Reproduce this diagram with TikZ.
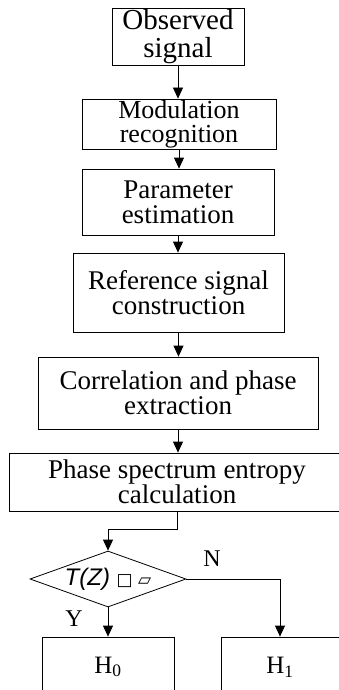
\documentclass[tikz,border=0pt]{standalone}
\usepackage{fontspec}
\setmainfont{Liberation Serif}
\setsansfont{Liberation Sans}
\newfontfamily\symfont{DejaVu Sans}
\usetikzlibrary{shapes.geometric,arrows.meta}

\begin{document}
\begin{tikzpicture}
[x=1pt,y=-1pt,line width=.8pt,
every node/.style={draw,rectangle,inner sep=0pt,align=center,font=\fontsize{27}{25}\selectfont},
arr/.style={-{Triangle[length=11pt,width=10pt]}},
lbl/.style={draw=none,font=\fontsize{24}{24}\selectfont}]
\useasboundingbox (0,0) rectangle (338,690);
\node[minimum width=132pt,minimum height=57pt,font=\fontsize{29}{28}\selectfont] (obs) at (178,36.5) {Observed\\signal};
\node[minimum width=194pt,minimum height=50pt,font=\fontsize{26}{24}\selectfont] (mod) at (179,124) {Modulation\\recognition};
\node[minimum width=192pt,minimum height=66pt] (par) at (178,202) {Parameter\\estimation};
\node[minimum width=211pt,minimum height=79pt] (ref) at (178.5,292.5) {Reference signal\\construction};
\node[minimum width=280pt,minimum height=72pt] (cor) at (178,393) {Correlation and phase\\extraction};
\node[minimum width=336pt,minimum height=58pt] (pse) at (177,482) {Phase spectrum entropy\\calculation};
\node[diamond,aspect=2.8,minimum width=156pt,minimum height=56pt,font=\fontsize{24}{24}\selectfont\sffamily\itshape] (dec) at (108,579) {T(Z) {\symfont\fontsize{17}{17}\selectfont □ ▱}};
\node[minimum width=132pt,minimum height=60pt,font=\fontsize{25}{25}\selectfont] (h0) at (108,667) {H\textsubscript{0}};
\node[minimum width=118pt,minimum height=60pt,font=\fontsize{25}{25}\selectfont] (h1) at (280,667) {H\textsubscript{1}};
\node[lbl] (lblN) at (212,559) {N};
\node[lbl] (lblY) at (74,619) {Y};
\foreach \from/\to in {obs/mod,mod/par,par/ref,ref/cor,cor/pse}
\draw[arr] (\from.south) -- (\from.south |- \to.north);
\draw[arr] (pse.south) -- ++(0,18) -| (dec.north);
\draw[arr] (dec.south) -- (h0.north);
\draw[arr] (dec.east) -| (h1.north);
\end{tikzpicture}
\end{document}
